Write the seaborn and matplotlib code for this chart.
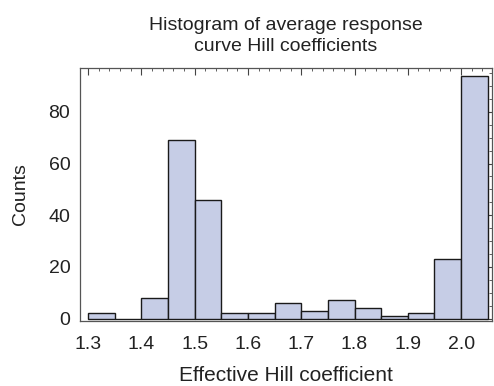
import matplotlib
matplotlib.use("Agg")
import matplotlib.pyplot as plt
import seaborn as sns
import numpy as np
import pandas as pd
from matplotlib.ticker import MultipleLocator

bin_left = [1.30, 1.35, 1.40, 1.45, 1.50, 1.55, 1.60, 1.65, 1.70, 1.75, 1.80, 1.85, 1.90, 1.95, 2.00]
counts = [2, 0, 8, 69, 46, 2, 2, 6, 3, 7, 4, 1, 2, 23, 94]
bin_width = 0.05
xticks = [1.3, 1.4, 1.5, 1.6, 1.7, 1.8, 1.9, 2.0]
yticks = [0, 20, 40, 60, 80]

sns.set_style("white")
plt.rcParams['font.family'] = ['Liberation Sans', 'DejaVu Sans']

df = pd.DataFrame({"h": np.array(bin_left) + bin_width / 2, "n": counts})
edges = list(bin_left) + [bin_left[-1] + bin_width]

fig = plt.figure(figsize=(4.94, 3.86), dpi=100)
ax = fig.add_axes([0.162, 0.168, 0.834, 0.656])
sns.histplot(data=df, x="h", weights="n", bins=edges, ax=ax,
             color="#c6cde6", alpha=1, edgecolor="#1a1a1a", linewidth=1.0)

ax.set_xlim(1.285, 2.058)
ax.set_ylim(-1, 97)
ax.set_xticks(xticks)
ax.set_xticklabels([f"{t:.1f}" for t in xticks])
ax.set_yticks(yticks)
ax.xaxis.set_minor_locator(MultipleLocator(0.02))
ax.yaxis.set_minor_locator(MultipleLocator(5))
ax.tick_params(which="both", direction="in", top=True, right=True, colors="#444444",
               labelcolor="#222222", labelsize=14)
ax.tick_params(which="major", length=5, width=0.8)
ax.tick_params(which="minor", length=2.5, width=0.6)
ax.tick_params(axis="x", pad=11)
ax.tick_params(axis="y", pad=7)
for s in ax.spines.values():
    s.set_color("#555555")
    s.set_linewidth(0.9)

ax.set_xlabel("Effective Hill coefficient", fontsize=15, color="#222222", labelpad=9)
ax.set_ylabel("Counts", fontsize=14, color="#222222", labelpad=14)
ax.set_title("Histogram of average response\ncurve Hill coefficients", fontsize=14,
             color="#222222", pad=12, linespacing=1.35)

fig.savefig("out.png", dpi=100)
